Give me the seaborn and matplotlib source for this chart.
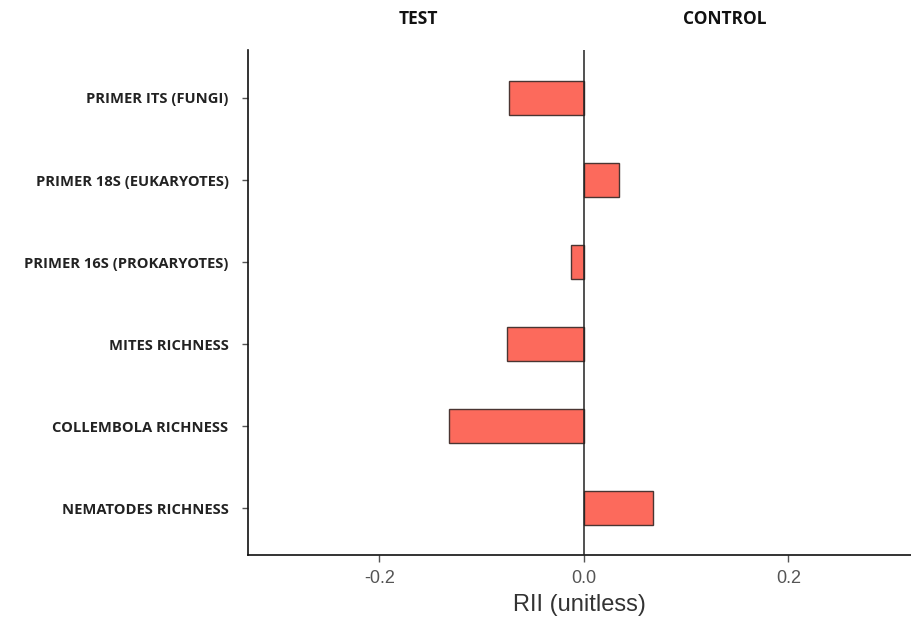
import matplotlib
matplotlib.use("Agg")
import matplotlib.pyplot as plt
import seaborn as sns
import pandas as pd

# Data
categories = [
    "PRIMER ITS (FUNGI)",
    "PRIMER 18S (EUKARYOTES)",
    "PRIMER 16S (PROKARYOTES)",
    "MITES RICHNESS",
    "COLLEMBOLA RICHNESS",
    "NEMATODES RICHNESS",
]
rii_values = [-0.073, 0.034, -0.013, -0.075, -0.132, 0.068]
x_ticks = [-0.2, 0.0, 0.2]
group_labels = ["TEST", "CONTROL"]
group_label_x = [-0.162, 0.138]

sns.set_theme(style="white")
plt.rcParams["font.family"] = ["Liberation Sans", "DejaVu Sans"]

df = pd.DataFrame({"Variable": categories, "RII": rii_values})

fig = plt.figure(figsize=(9.11, 6.29), dpi=100)
ax = fig.add_axes([248 / 911, 1 - 555 / 629, (911 - 248) / 911, (555 - 50) / 629])

sns.barplot(data=df, x="RII", y="Variable", orient="h", color="#FC6A5C",
            saturation=1, width=0.41, edgecolor="#4a3532", linewidth=1.0, ax=ax)

ax.axvline(0, color="#222222", linewidth=1.1, zorder=3)

ax.set_xlim(-0.3286, 0.32)
ax.set_ylim(5.57, -0.585)
ax.set_xticks(x_ticks)
ax.set_xticklabels([f"{v:.1f}" for v in x_ticks], fontsize=13, color="#555555")
ax.set_xlabel("RII (unitless)", fontsize=17, color="#333333", labelpad=5)
ax.set_ylabel("")
for lbl in ax.get_yticklabels():
    lbl.set_fontfamily(["Open Sans", "DejaVu Sans"])
    lbl.set_fontweight("bold")
    lbl.set_fontsize(10.6)
    lbl.set_color("#222222")

ax.tick_params(axis="x", length=5, width=1, color="#555555", bottom=True, pad=6)
ax.tick_params(axis="y", length=4, width=1, color="#555555", left=True, pad=10)

sns.despine(ax=ax, top=True, right=True)
for side in ["left", "bottom"]:
    ax.spines[side].set_color("#111111")
    ax.spines[side].set_linewidth(1.2)

# group headers above the panel
for name, xpos in zip(group_labels, group_label_x):
    ax.text(xpos, -0.585 - 0.38, name, ha="center", va="center",
            fontsize=12.5, fontweight="bold", family=["Open Sans", "DejaVu Sans"],
            color="#111111", clip_on=False)

fig.savefig("out.png", dpi=100)
